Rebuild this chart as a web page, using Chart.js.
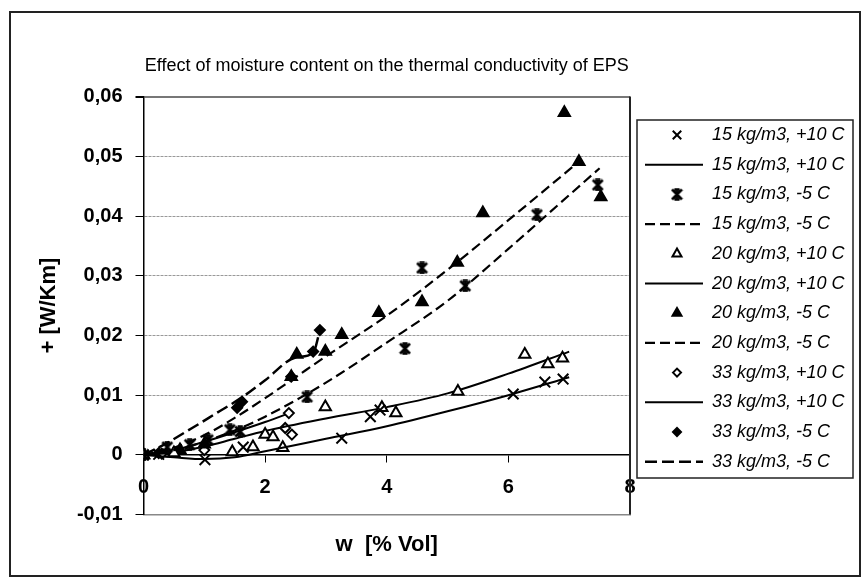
<!DOCTYPE html>
<html lang="en">
<head>
<meta charset="UTF-8">
<title>Effect of moisture content on the thermal conductivity of EPS</title>
<script src="https://cdn.jsdelivr.net/npm/chart.js"></script>
<style>
  body { margin: 0; background: #fff; }
  canvas { display: block; }
</style>
</head>
<body>
<canvas id="chart" width="867" height="583"></canvas>
<script>
  // measured points: moisture w [% Vol] -> conductivity increase [W/Km]
  const x15p10 = [0, 0.25, 1.01, 1.64, 3.26, 3.73, 3.89, 6.08, 6.60, 6.90];
  const y15p10 = [0, 0.0001, -0.0008, 0.0013, 0.0028, 0.0064, 0.0075, 0.0102, 0.0122, 0.0127];
  const x15m5 = [0, 0.39, 0.76, 1.06, 1.42, 1.59, 2.69, 4.30, 4.58, 5.29, 6.47, 7.47];
  const y15m5 = [0, 0.0013, 0.0017, 0.0025, 0.0042, 0.0039, 0.0097, 0.0178, 0.0313, 0.0283, 0.0402, 0.0452];
  const x20p10 = [0, 0.5, 1.46, 1.80, 2.0, 2.13, 2.29, 2.99, 3.92, 4.15, 5.17, 6.27, 6.65, 6.89];
  const y20p10 = [0, 0.0003, 0.0005, 0.0013, 0.0034, 0.0030, 0.0012, 0.0080, 0.0079, 0.0070, 0.0106, 0.0168, 0.0152, 0.0162];
  const x20m5 = [0, 0.6, 1.0, 2.43, 2.52, 2.99, 3.26, 3.87, 4.58, 5.16, 5.58, 6.92, 7.16, 7.52];
  const y20m5 = [0, 0.0008, 0.0018, 0.0131, 0.0168, 0.0173, 0.0201, 0.0238, 0.0256, 0.0322, 0.0405, 0.0573, 0.0491, 0.0432];
  const x33p10 = [0, 0.3, 1.0, 2.33, 2.39, 2.44];
  const y33p10 = [0, 0.0002, 0.0008, 0.0045, 0.0070, 0.0034];
  const x33m5 = [0, 0.25, 1.54, 1.62, 2.43, 2.79, 2.90];
  const y33m5 = [0, 0.0003, 0.0079, 0.0089, 0.0131, 0.0173, 0.0209];

  // trend lines
  const fx15p10 = [0, 0.5, 1, 1.5, 2, 3, 4, 5, 6, 7];
  const fy15p10 = [0, -0.0004, -0.0007, -0.0004, 0.0006, 0.0027, 0.0048, 0.0073, 0.0100, 0.0130];
  const fx15m5 = [0, 0.5, 1, 1.5, 2, 3, 4, 5, 6, 7, 7.5];
  const fy15m5 = [0, 0.0008, 0.0022, 0.0041, 0.0064, 0.0121, 0.0188, 0.0258, 0.0345, 0.0435, 0.0480];
  const fx20p10 = [0, 0.5, 1, 1.5, 2, 3, 4, 5, 6, 7];
  const fy20p10 = [0, 0.0004, 0.0014, 0.0027, 0.0040, 0.0061, 0.0080, 0.0103, 0.0136, 0.0173];
  const fx20m5 = [0, 0.5, 1, 1.5, 2, 2.5, 3, 4, 5, 6, 7.1];
  const fy20m5 = [0, 0.0012, 0.0033, 0.0062, 0.0095, 0.0130, 0.0165, 0.0233, 0.0310, 0.0393, 0.0486];
  const fx33p10 = [0, 0.5, 1, 1.5, 2, 2.45];
  const fy33p10 = [0, 0.0008, 0.0022, 0.0038, 0.0055, 0.0072];
  const fx33m5 = [0, 0.3, 0.8, 1.2, 1.6, 2.0, 2.5, 2.79, 2.90];
  const fy33m5 = [0, 0.0015, 0.0045, 0.0070, 0.0095, 0.0125, 0.0163, 0.0171, 0.0208];

  const labels = ['15 kg/m3, +10 C', '15 kg/m3, -5 C', '20 kg/m3, +10 C',
                  '20 kg/m3, -5 C', '33 kg/m3, +10 C', '33 kg/m3, -5 C'];

  const pts = (xs, ys) => xs.map((x, i) => ({ x: x, y: ys[i] }));

  // excel-like star marker: x with a vertical bar and short caps
  function makeStar(size) {
    const c = document.createElement('canvas');
    c.width = c.height = size;
    const g = c.getContext('2d');
    g.strokeStyle = '#000';
    g.lineWidth = 2.5;
    const a = 1.5, b = size - 1.5, m = size / 2;
    g.beginPath();
    g.moveTo(a, a); g.lineTo(b, b);
    g.moveTo(b, a); g.lineTo(a, b);
    g.moveTo(size * 0.3, a); g.lineTo(size * 0.7, a);
    g.moveTo(size * 0.3, b); g.lineTo(size * 0.7, b);
    g.moveTo(m, a); g.lineTo(m, b);
    g.stroke();
    return c;
  }
  const star = makeStar(13);

  function markers(label, data, style, fill, radius) {
    return {
      label: label, data: data, showLine: false,
      pointStyle: style, pointRadius: radius, pointBorderWidth: 2,
      pointBackgroundColor: fill, pointBorderColor: '#000',
      backgroundColor: fill, borderColor: '#000', borderWidth: 2
    };
  }
  function trend(label, data, dash, width) {
    return {
      label: label, data: data, showLine: true, pointRadius: 0,
      borderColor: '#000', borderWidth: width, borderDash: dash,
      cubicInterpolationMode: 'monotone', fill: false
    };
  }

  const datasets = [
    markers(labels[0], pts(x15p10, y15p10), 'crossRot', '#000', 7.5),
    trend(labels[0], pts(fx15p10, fy15p10), [], 2),
    markers(labels[1], pts(x15m5, y15m5), star, '#000', 6),
    trend(labels[1], pts(fx15m5, fy15m5), [10, 5], 2.2),
    markers(labels[2], pts(x20p10, y20p10), 'triangle', '#fff', 6.5),
    trend(labels[2], pts(fx20p10, fy20p10), [], 2),
    markers(labels[3], pts(x20m5, y20m5), 'triangle', '#000', 6.5),
    trend(labels[3], pts(fx20m5, fy20m5), [10, 5], 2.2),
    markers(labels[4], pts(x33p10, y33p10), 'rectRot', '#fff', 5),
    trend(labels[4], pts(fx33p10, fy33p10), [], 2),
    markers(labels[5], pts(x33m5, y33m5), 'rectRot', '#000', 5),
    trend(labels[5], pts(fx33m5, fy33m5), [12, 5], 2.5)
  ];

  // frame, plot border and the boxed legend
  const framePlugin = {
    id: 'frame',
    afterDraw(chart) {
      const ctx = chart.ctx;
      const area = chart.chartArea;
      ctx.save();
      ctx.strokeStyle = '#222';
      ctx.lineWidth = 2;
      ctx.strokeRect(10, 12, 850, 564);
      ctx.beginPath();
      ctx.moveTo(area.right, area.top);
      ctx.lineTo(area.right, area.bottom);
      ctx.stroke();
      ctx.lineWidth = 1.5;
      ctx.strokeRect(637, 120, 216, 358);

      ctx.font = 'italic 18px "Liberation Sans", Arial, sans-serif';
      ctx.textBaseline = 'middle';
      ctx.fillStyle = '#000';
      chart.data.datasets.forEach((ds, i) => {
        const y = 135 + i * 29.7;
        ctx.strokeStyle = '#000';
        if (ds.showLine) {
          ctx.lineWidth = ds.borderWidth;
          ctx.setLineDash(ds.borderDash);
          ctx.beginPath();
          ctx.moveTo(645, y);
          ctx.lineTo(703, y);
          ctx.stroke();
          ctx.setLineDash([]);
        } else {
          ctx.fillStyle = ds.pointBackgroundColor;
          ctx.lineWidth = 2;
          Chart.helpers.drawPoint(ctx, {
            pointStyle: ds.pointStyle, radius: ds.pointRadius * 0.8,
            rotation: 0, borderWidth: 2
          }, 677, y);
        }
        ctx.fillStyle = '#000';
        ctx.fillText(ds.label, 712, y);
      });
      ctx.restore();
    }
  };

  const boldFont = size => ({ family: '"Liberation Sans", Arial, sans-serif', size: size, weight: 'bold' });

  new Chart(document.getElementById('chart'), {
    type: 'scatter',
    data: { datasets: datasets },
    options: {
      responsive: false,
      animation: false,
      devicePixelRatio: 1,
      events: [],
      layout: { padding: { left: 20, top: 30, right: 237, bottom: 25 } },
      plugins: {
        legend: { display: false },
        tooltip: { enabled: false },
        title: {
          display: true,
          fullSize: false,
          text: 'Effect of moisture content on the thermal conductivity of EPS',
          color: '#000',
          font: { family: '"Liberation Sans", Arial, sans-serif', size: 18, weight: 'normal' },
          padding: { top: 25, bottom: 20 }
        }
      },
      scales: {
        x: {
          type: 'linear', min: 0, max: 8,
          position: { y: 0 },
          ticks: { stepSize: 2, color: '#000', font: boldFont(20), padding: 14 },
          grid: { drawOnChartArea: false, tickLength: 7, tickColor: '#000' },
          border: { display: true, color: '#000', width: 1.5 }
        },
        x2: {
          type: 'linear', min: 0, max: 8, position: 'bottom',
          ticks: { display: false },
          grid: { display: false, drawTicks: false },
          border: { display: true, color: '#888', width: 1.5 },
          title: { display: true, text: 'w  [% Vol]', color: '#000', font: boldFont(22), padding: { top: 17, bottom: 0 } }
        },
        y: {
          min: -0.01, max: 0.06,
          afterFit(scale) { scale.width = 123.5; },
          ticks: {
            stepSize: 0.01, color: '#000', font: boldFont(20), padding: 13,
            callback: v => Math.abs(v) < 1e-9 ? '0' : v.toFixed(2).replace('.', ',')
          },
          grid: {
            tickLength: 8, tickColor: '#000',
            color: c => Math.abs(c.tick.value) < 1e-9 ? '#000' : (c.tick.value > 0.0599 ? '#777' : '#999'),
            lineWidth: c => c.tick.value > 0.0599 ? 2 : 1
          },
          border: {
            display: true, color: '#000', width: 1.5,
            dash: c => (c.tick && c.tick.value > 0.001 && c.tick.value < 0.0599) ? [3, 1] : []
          },
          title: { display: true, text: '+ [W/Km]', color: '#000', font: boldFont(22), padding: { top: 16, bottom: 0 } }
        }
      }
    },
    plugins: [framePlugin]
  });
</script>
</body>
</html>
